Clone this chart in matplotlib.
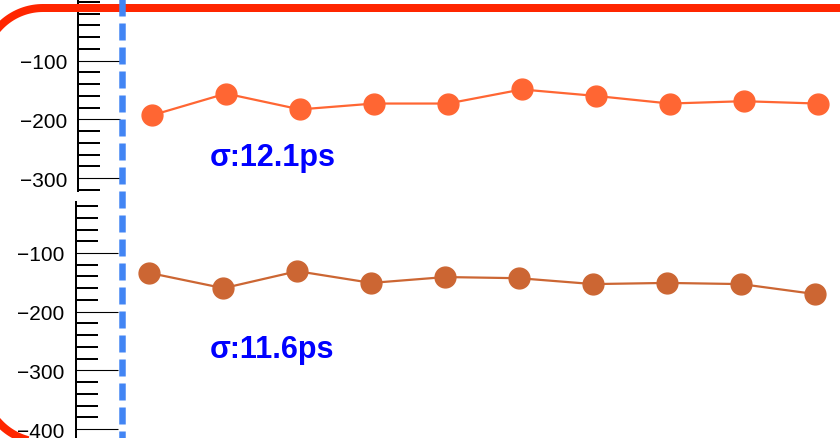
import matplotlib
matplotlib.use("Agg")
import matplotlib.pyplot as plt
import numpy as np
from matplotlib.ticker import FixedLocator, MultipleLocator, FuncFormatter

plt.rcParams['font.family'] = ['Liberation Sans', 'DejaVu Sans']
plt.rcParams['lines.scale_dashes'] = False

# Run index and per-run offsets for the two channels
runs = [1, 2, 3, 4, 5, 6, 7, 8, 9, 10]
upper_vals = [-193, -156, -183, -173, -173, -149, -160, -173, -169, -173]
lower_vals = [-134, -160, -131, -151, -141, -143, -153, -151, -153, -170]
upper_label = "σ:12.1ps"
lower_label = "σ:11.6ps"
upper_ticks = [-300, -200, -100]
lower_ticks = [-400, -300, -200, -100]

W, H = 840, 439
fig = plt.figure(figsize=(W / 100, H / 100), dpi=100)
PT = 72 / 100  # points per pixel


def px_axes(left, top, bottom, x_unit, xmax):
    """Axes placed by pixel edges (y measured from the top)."""
    return fig.add_axes([left / W, 1 - bottom / H, xmax * x_unit / W, (bottom - top) / H])


def style_axis(ax, ymin, ymax, majors):
    ax.set_xlim(0, 11)
    ax.set_ylim(ymin, ymax)
    for s in ('top', 'right', 'bottom'):
        ax.spines[s].set_visible(False)
    ax.spines['left'].set_linewidth(2 * PT)
    ax.xaxis.set_visible(False)
    ax.yaxis.set_major_locator(FixedLocator(majors))
    ax.yaxis.set_minor_locator(MultipleLocator(20))
    ax.tick_params(axis='y', which='major', direction='in', length=42 * PT,
                   width=1.1 * PT, labelsize=15, pad=8, colors='black')
    ax.tick_params(axis='y', which='minor', direction='in', length=22 * PT,
                   width=2 * PT)
    ax.yaxis.set_major_formatter(FuncFormatter(
        lambda v, p: f"\u2212{abs(int(v))}" if v < 0 else f"{int(v)}"))
    ax.patch.set_alpha(0)


# Upper channel
ax1 = px_axes(78, 0, 192, 73.96, 11)
style_axis(ax1, -322, 5.1, upper_ticks)
ax1.plot(runs, upper_vals, '-o', color='#FF6633', lw=1.6, ms=15, mec='#FF6633')

# Lower channel
ax2 = px_axes(75.5, 203, 439, 73.96, 11)
style_axis(ax2, -415.3, -13.1, lower_ticks)
ax2.plot(runs, lower_vals, '-o', color='#CC6633', lw=1.6, ms=15, mec='#CC6633')

fig.text(210 / W, 1 - 166 / H, upper_label, color='#0000FF', fontsize=22,
         fontweight='bold', va='baseline')
fig.text(210 / W, 1 - 358 / H, lower_label, color='#0000FF', fontsize=22,
         fontweight='bold', va='baseline')

# Overlay in pixel units: rounded red frame and dashed blue marker line
ov = fig.add_axes([0, 0, 1, 1], zorder=10)
ov.set_xlim(0, W)
ov.set_ylim(H, 0)
ov.axis('off')
ov.patch.set_alpha(0)

left, top, bottom, right, r = -17, 9, 443, 1000, 60
t1 = np.linspace(1.5 * np.pi, np.pi, 40)
t2 = np.linspace(np.pi, 0.5 * np.pi, 40)
fx = np.concatenate([[right], left + r + r * np.cos(t1), left + r + r * np.cos(t2), [right]])
fy = np.concatenate([[top], top + r + r * np.sin(t1), bottom - r + r * np.sin(t2), [bottom]])
ov.plot(fx, fy, color='#FF2600', lw=8 * PT, solid_joinstyle='round')

ov.plot([122.3, 122.3], [-6, 470], color='#4285F4', lw=6.5 * PT,
        dashes=(17 * PT, 7 * PT))

fig.savefig('out.png', dpi=100)
